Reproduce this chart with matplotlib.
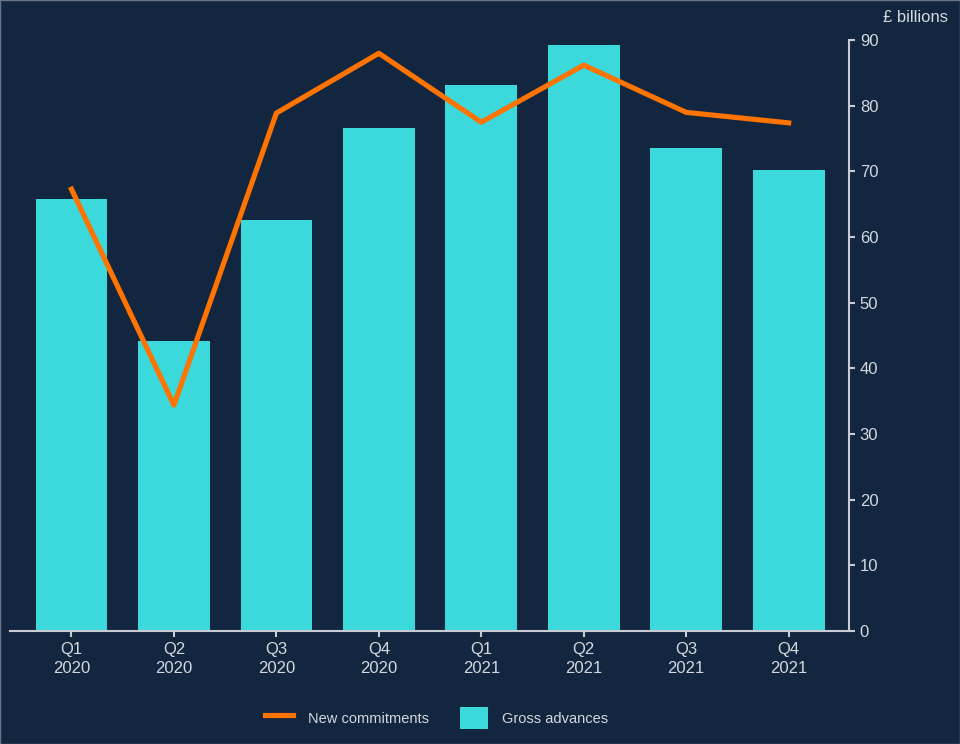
import numpy as np
import matplotlib.pyplot as plt
from matplotlib.lines import Line2D
from matplotlib.patches import Patch

plt.rcParams['font.family'] = ['Liberation Sans', 'DejaVu Sans']

# DATA
quarters = ['Q1\n2020', 'Q2\n2020', 'Q3\n2020', 'Q4\n2020',
            'Q1\n2021', 'Q2\n2021', 'Q3\n2021', 'Q4\n2021']
gross_advances = [65.8, 44.2, 62.6, 76.6, 83.1, 89.2, 73.5, 70.2]
new_commitments = [67.3, 34.4, 78.9, 88.0, 77.5, 86.2, 79.0, 77.4]

bg = '#13263f'
txt = '#d4d8de'
bar_col = '#3bd8dc'
line_col = '#ff7300'

fig = plt.figure(figsize=(9.6, 7.44), dpi=100, facecolor=bg)
ax = fig.add_axes([0.0104, 0.152, 0.8736, 0.794])
ax.set_facecolor(bg)

x = np.arange(len(quarters))
ax.bar(x, gross_advances, 0.7, color=bar_col, zorder=2)
ax.plot(x, new_commitments, color=line_col, lw=3.7, zorder=3,
        solid_joinstyle='round')

ax.set_xlim(-0.6, 7.585)
ax.set_ylim(0, 90)
ax.set_xticks(x)
ax.set_xticklabels(quarters, linespacing=1.35)
ax.set_yticks(range(0, 91, 10))
ax.yaxis.tick_right()

for s in ['top', 'left']:
    ax.spines[s].set_visible(False)
for s in ['bottom', 'right']:
    ax.spines[s].set_color('#c8ccd2')
    ax.spines[s].set_linewidth(1.5)

ax.tick_params(axis='both', colors='#c8ccd2', labelcolor=txt,
               labelsize=12, length=4, width=1.5)
ax.tick_params(axis='y', pad=4)
ax.tick_params(axis='x', pad=4)

fig.text(0.988, 0.977, '£ billions', color=txt, fontsize=12,
         ha='right', va='center')

handles = [Line2D([0], [0], color=line_col, lw=3.7),
           Patch(facecolor=bar_col)]
fig.legend(handles, ['New commitments', 'Gross advances'],
           loc='center', bbox_to_anchor=(0.455, 0.035), ncol=2,
           frameon=False, fontsize=10.5, labelcolor=txt,
           handlelength=1.9, handleheight=2.0, columnspacing=2.15,
           handletextpad=1.0)

fig.patches.append(plt.Rectangle((0, 0), 1, 1, transform=fig.transFigure,
                                 fill=False, edgecolor='#6a7686', lw=1.0))

fig.savefig('out.png', dpi=100, facecolor=bg)
